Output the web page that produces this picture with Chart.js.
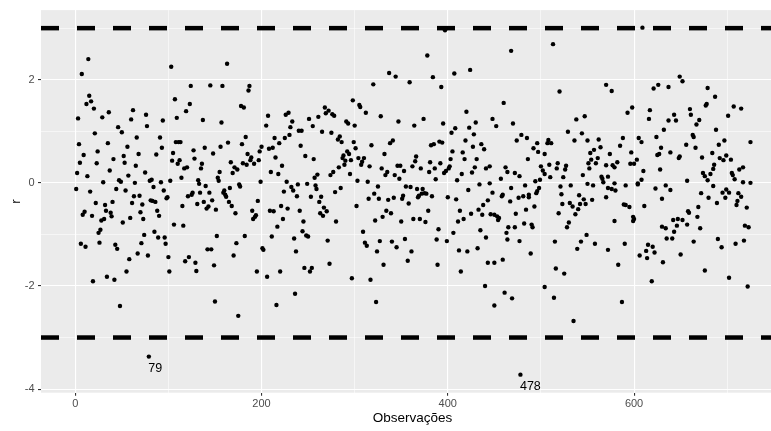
<!DOCTYPE html>
<html><head><meta charset="utf-8">
<script src="https://cdn.jsdelivr.net/npm/chart.js@4.4.1/dist/chart.umd.min.js"></script>
<style>html,body{margin:0;padding:0;overflow:hidden;background:#fff;width:771px;height:431px}canvas{display:block}</style>
</head><body>
<canvas id="c" width="791" height="431"></canvas>
<script>
const obs = [
1,2,3,4,5,6,7,8,9,10,11,12,13,14,15,16,17,18,19,20,21,22,23,24,25,26,27,28,29,30,
31,32,33,34,35,36,37,38,39,40,41,42,43,44,45,46,47,48,49,50,51,52,53,54,55,56,57,58,59,60,
61,62,63,64,65,66,67,68,69,70,71,72,73,74,75,76,77,78,79,80,81,82,83,84,85,86,87,88,89,90,
91,92,93,94,95,96,97,98,99,100,101,102,103,104,105,106,107,108,109,110,111,112,113,114,115,
116,117,118,119,120,121,122,123,124,125,126,127,128,129,130,131,132,133,134,135,
136,137,138,139,140,141,142,143,144,145,146,147,148,149,150,151,152,153,154,155,156,157,158,
159,160,161,162,163,164,165,166,167,168,169,170,171,172,173,174,175,176,177,178,179,180,181,
182,183,184,185,186,187,188,189,190,191,192,193,194,195,196,197,198,199,200,201,202,
205,206,207,208,209,210,211,212,213,214,215,216,217,218,219,220,221,222,223,224,225,226,227,
228,229,230,231,232,233,234,235,236,237,238,239,240,241,242,243,244,245,246,247,248,249,250,
251,252,253,254,255,256,257,258,259,260,261,262,263,264,265,266,267,268,269,270,271,272,273,
274,275,276,277,278,279,280,
282,283,284,285,286,287,288,289,290,291,292,293,294,295,296,297,298,299,300,301,302,303,304,
305,306,307,308,309,310,311,312,313,314,315,316,317,318,
320,321,322,323,324,325,326,327,328,329,330,331,332,333,334,335,336,337,338,339,340,341,342,
343,344,345,346,347,348,349,350,351,352,353,354,355,
357,358,359,360,361,362,363,364,365,366,367,368,369,370,371,372,373,374,375,376,377,378,379,
380,381,382,383,384,385,386,387,388,389,390,391,392,393,394,395,396,397,398,399,400,401,402,
403,404,405,406,407,408,409,410,411,412,413,414,415,416,417,418,419,420,421,422,423,424,425,
426,427,428,429,430,431,432,
433,434,435,436,437,438,439,440,441,441,443,443,445,445,446,448,448,450,450,450,
452,453,454,455,457,458,459,459,460,461,462,463,464,464,465,467,468,468,469,470,
472,472,473,474,476,477,477,478,479,481,482,483,484,485,486,487,487,489,490,491,
492,493,494,495,496,496,497,498,499,500,502,504,504,504,
507,508,509,510,511,513,514,515,516,517,518,519,520,521,522,523,524,525,526,527,
528,529,530,531,532,534,535,536,537,538,539,540,541,542,543,544,545,546,547,548,
549,550,550,551,552,553,554,555,556,557,559,558,561,562,564,565,566,567,
570,570,570,572,572,572,574,576,576,577,579,579,579,580,582,583,585,587,588,589,
590,591,591,593,595,596,597,598,599,599,600,600,603,604,604,605,606,608,608,609,
610,611,613,614,615,616,617,619,620,621,622,623,624,625,626,627,628,629,630,630,
631,632,634,634,635,637,637,639,639,641,642,643,643,645,646,647,648,649,649,650,
652,652,656,657,657,658,659,660,661,663,664,664,666,667,668,669,670,671,672,673,
674,676,676,677,678,679,679,680,682,684,685,685,686,687,688,689,690,691,692,694,
695,696,697,698,699,699,701,702,702,704,705,706,707,708,709,710,711,712,713,715,
715,717,717,718,719,721,722,723,725,725
];
const r = [
-0.12,0.19,1.25,0.75,0.39,-1.18,2.11,-0.62,0.54,-0.56,
-1.24,1.53,0.13,2.40,1.69,-0.17,1.58,-0.64,-1.91,1.44,
0.96,-0.39,0.38,0.61,-0.97,-1.16,-0.91,-0.73,1.27,0.01,
-0.70,-0.43,-0.54,-1.82,0.77,1.37,0.24,-0.58,-0.65,-0.37,
0.46,-1.88,-1.20,-0.12,-1.28,1.08,0.05,-2.39,0.02,0.98,
-0.77,0.52,0.39,-0.15,-1.72,0.70,0.14,-1.48,-0.68,1.23,
-0.39,1.41,-0.26,0.00,0.33,0.88,-1.37,0.56,-0.25,-0.57,
-1.17,-0.42,-0.70,-1.01,0.20,1.32,1.10,-1.41,-3.37,0.04,
-0.34,0.06,-0.35,-0.08,-0.95,-0.37,0.55,-0.54,-1.06,-0.64,
0.88,0.01,0.68,1.21,-0.15,-1.06,-1.18,-0.30,-0.28,-1.44,
-1.72,0.04,2.25,0.43,0.58,-0.81,1.62,0.79,1.26,0.37,
0.79,0.44,0.79,0.10,-0.45,-0.83,0.28,-1.52,1.39,0.30,
-0.26,-1.44,1.53,1.88,-0.23,-0.19,0.63,0.47,-1.55,-1.71,
-0.41,0.05,-0.02,-0.19,0.28,
0.37,1.22,-0.37,0.68,-0.06,-0.50,-1.29,-0.46,-0.19,1.89,
-1.29,-0.34,0.57,-1.60,-2.30,-0.52,-1.03,0.10,0.04,0.21,
0.70,1.17,1.88,-0.19,-0.15,-0.23,-0.27,2.31,0.78,-0.37,
-0.10,0.40,-0.45,0.19,-1.41,0.30,-0.59,-1.17,0.26,-2.58,
-0.03,-0.07,1.49,0.75,0.38,1.46,-1.03,0.89,0.35,0.56,
1.79,1.88,0.44,0.49,-0.54,-0.70,0.37,-0.66,-0.63,-1.72,
-0.35,0.44,0.61,0.02,0.70,-1.27,-1.30,
1.11,-1.82,1.30,0.66,-0.54,0.21,-1.04,0.68,-0.55,0.87,
0.49,-2.37,-0.85,0.17,0.77,-1.72,-0.45,0.33,-0.70,-0.17,
0.87,1.32,0.02,-0.50,1.36,0.93,1.08,-0.08,1.19,-0.15,
-1.08,-2.15,-1.33,-0.26,-0.03,1.01,-0.54,0.72,1.01,-0.94,
-0.75,-1.65,0.52,-1.02,-0.02,-1.04,1.24,-1.72,-0.27,-1.65,
1.10,0.46,0.10,-0.05,-0.12,0.16,1.28,-0.37,-0.59,-0.27,
0.99,-0.64,-0.48,1.46,1.35,-0.55,-1.12,1.40,-1.57,0.15,
0.97,1.33,0.21,1.30,-0.18,-0.75,
0.84,0.30,0.90,-0.10,0.79,0.48,0.53,0.35,0.43,1.19,
0.61,1.15,0.56,0.17,0.44,-1.85,1.60,0.79,1.11,0.67,
-0.45,0.04,0.48,1.51,1.47,0.35,0.41,-0.95,0.48,-1.16,
1.36,-1.22,0.02,-0.31,0.32,-1.88,0.73,
1.91,-0.21,-0.73,-2.31,-1.33,-0.07,-0.31,-1.13,1.29,0.28,
-0.66,-1.59,0.56,0.15,-0.54,0.21,-0.33,2.13,0.77,-0.59,
-1.14,0.82,-0.29,0.15,2.06,-1.25,0.33,1.19,0.08,0.33,
-0.75,-0.31,-0.25,0.23,-1.09,-0.07,
-1.51,-0.40,1.95,-0.08,-1.33,0.32,-0.70,1.11,0.42,0.51,
-0.12,-0.28,-0.25,-0.70,0.28,-0.21,-0.12,1.24,-0.20,-0.76,
-0.21,2.47,-0.54,0.21,0.40,0.73,-0.26,2.05,0.75,0.28,
0.07,-1.10,-1.59,-0.90,0.80,0.38,1.86,0.78,1.15,0.19,
2.96,0.23,-1.13,-0.28,0.28,0.32,0.46,0.97,0.61,-0.97,
2.12,1.06,-0.32,0.05,-0.75,-1.31,-0.54,-1.72,0.17,0.59,
-0.70,0.46,0.82,1.38,-1.33,-0.14,1.07,2.19,-0.60,0.20,
0.70,0.94,0.30,1.17,0.46,-1.27,
-0.52,-0.03,-0.92,0.75,-0.62,-0.43,0.65,-2.00,0.28,-1.06,
-0.34,-1.55,0.32,-0.01,-0.61,-0.19,1.24,-2.38,-0.62,-1.55,
1.10,-0.65,-0.72,-0.68,0.08,-0.26,-0.23,-1.49,1.55,-2.13,
0.30,-0.97,-1.10,0.21,-0.86,-0.36,-0.10,2.56,-2.24,1.15,
0.19,-0.86,-0.60,0.82,-0.29,0.13,-1.13,-3.72,0.93,-0.26,
-0.79,-0.05,-0.52,0.87,0.46,-0.23,-0.28,-1.37,-0.81,-0.86,
0.67,-0.46,0.03,-0.20,0.77,-0.16,0.60,-0.10,0.06,0.32,
0.24,0.56,0.17,-2.02,
0.77,0.83,0.35,0.11,0.77,2.69,-2.23,-1.14,-1.66,0.28,
0.38,-0.59,1.77,-0.07,-0.22,-0.41,0.11,-1.76,0.26,0.33,
-0.86,0.99,-0.77,-0.39,-0.05,-0.46,-2.68,0.82,-0.61,1.23,
-1.28,-0.51,-0.24,-0.41,-1.14,0.96,0.15,-0.32,1.29,-0.41,
-1.01,-0.02,0.82,0.38,0.28,0.58,0.45,-0.33,-0.05,0.64,
0.38,-1.18,0.48,0.84,0.69,0.12,0.08,0.01,
1.90,0.34,-0.28,-1.30,-0.10,0.12,0.56,1.78,-0.12,0.34,
-0.01,0.30,-0.74,-0.15,0.40,-1.59,0.72,-2.31,0.87,-0.42,
-1.18,-0.05,-0.43,1.36,-0.47,0.37,0.59,1.46,-0.74,-0.66,
0.37,-0.70,0.45,-0.01,-0.03,0.87,-1.41,0.79,0.06,3.01,
0.23,-0.45,-1.32,-1.46,-1.20,1.24,1.41,-1.91,-1.24,1.83,
-1.35,-0.11,0.89,0.54,1.90,0.56,0.26,0.68,-0.31,-0.85,
-1.54,1.03,-0.05,-0.88,-1.08,1.21,1.86,-0.14,0.59,-1.08,
-0.72,1.32,-0.95,1.21,-0.83,-0.70,0.48,0.51,2.06,-1.39,
1.97,-0.72,0.74,0.04,-0.81,-0.55,-0.58,1.43,1.32,0.93,
0.89,-1.14,0.68,1.13,-0.66,-0.47,1.22,-0.88,-0.20,0.49,
0.19,0.13,-1.70,1.50,1.53,0.05,1.84,-0.29,0.17,0.58,
-0.06,0.27,0.35,1.67,1.03,-0.39,-1.09,0.74,0.48,-1.25,
-0.19,0.44,0.82,-0.29,0.53,-0.13,1.30,-1.84,-0.19,0.45,
0.19,0.15,1.48,0.07,-1.18,-0.43,-0.35,-0.20,0.26,1.44,
-0.27,0.30,0.01,-1.12,-0.83,-0.48,-2.01,-0.86,0.79,0.00
];
const refLines = [3, -3];          // dashed reference lines
const labelObs = [79, 478];        // labelled outliers
const xGrid = [0, 100, 200, 300, 400, 500, 600, 700];   // major + minor grid positions
const yGrid = [-4, -3, -2, -1, 0, 1, 2, 3];
const xTickLabels = [0, 200, 400, 600];
const yTickLabels = [-4, -2, 0, 2];
const xTitle = 'Observações';
const yTitle = 'r';

const FONT = '"Liberation Sans", Arial, sans-serif';
Chart.defaults.font.family = FONT;

const points = obs.map((o, i) => ({x: o, y: r[i]}));

const ggPlugin = {
  id: 'gg',
  beforeDraw(chart) {
    const {ctx, chartArea: a} = chart;
    ctx.save();
    ctx.fillStyle = '#EBEBEB';
    ctx.fillRect(a.left, a.top, a.right - a.left, a.bottom - a.top);
    ctx.restore();
  },
  beforeDatasetsDraw(chart) {
    const {ctx, chartArea: a, scales} = chart;
    ctx.save();
    ctx.beginPath();
    ctx.rect(a.left, a.top, a.right - a.left, a.bottom - a.top);
    ctx.clip();
    ctx.strokeStyle = '#000';
    ctx.lineWidth = 4.5;
    ctx.lineCap = 'butt';
    ctx.setLineDash([18, 18]);
    refLines.forEach(v => {
      const y = scales.y.getPixelForValue(v);
      ctx.beginPath();
      ctx.moveTo(a.left, y);
      ctx.lineTo(a.right, y);
      ctx.stroke();
    });
    ctx.restore();
  },
  afterDatasetsDraw(chart) {
    const {ctx, scales} = chart;
    ctx.save();
    ctx.fillStyle = '#000';
    ctx.font = '12.5px ' + FONT;
    ctx.textAlign = 'left';
    ctx.textBaseline = 'middle';
    labelObs.forEach(o => {
      const i = obs.indexOf(o);
      const px = scales.x.getPixelForValue(o);
      const py = scales.y.getPixelForValue(r[i]);
      ctx.fillText(String(o), px - 0.5, py + 12);
    });
    ctx.restore();
  }
};

const isMajorX = c => c.tick && xTickLabels.includes(c.tick.value);
const isMajorY = c => c.tick && yTickLabels.includes(c.tick.value);

new Chart(document.getElementById('c'), {
  type: 'scatter',
  data: { datasets: [{
    data: points,
    pointRadius: 2.2,
    pointHoverRadius: 2.2,
    pointBorderWidth: 0,
    pointBackgroundColor: '#000',
    pointBorderColor: '#000'
  }]},
  options: {
    responsive: false,
    animation: false,
    devicePixelRatio: 1,
    events: [],
    layout: { padding: { top: 9, right: 7, bottom: 0, left: 0 } },
    plugins: { legend: { display: false }, tooltip: { enabled: false } },
    scales: {
      x: {
        type: 'linear',
        min: -36.8, max: 761,
        afterBuildTicks: s => { s.ticks = xGrid.map(v => ({value: v})); },
        afterFit: s => { s.height = 38.3; },
        border: { display: false },
        grid: {
          color: '#FFFFFF',
          lineWidth: c => isMajorX(c) ? 1.1 : 0.55,
          tickColor: c => isMajorX(c) ? '#333333' : 'rgba(0,0,0,0)',
          tickLength: 3,
          tickWidth: 1.1
        },
        ticks: {
          autoSkip: false,
          maxRotation: 0,
          padding: 2,
          color: '#4D4D4D',
          font: { size: 11 },
          callback: v => xTickLabels.includes(v) ? String(v) : ''
        },
        title: {
          display: true, text: xTitle, color: '#000',
          font: { size: 13.5 },
          padding: { top: 0, bottom: 4.3 }
        }
      },
      y: {
        type: 'linear',
        min: -4.07, max: 3.35,
        afterBuildTicks: s => { s.ticks = yGrid.map(v => ({value: v})); },
        afterFit: s => { s.width = 41; },
        border: { display: false },
        grid: {
          color: '#FFFFFF',
          lineWidth: c => isMajorY(c) ? 1.1 : 0.55,
          tickColor: c => isMajorY(c) ? '#333333' : 'rgba(0,0,0,0)',
          tickLength: 3,
          tickWidth: 1.1
        },
        ticks: {
          autoSkip: false,
          padding: 3.5,
          color: '#4D4D4D',
          font: { size: 11 },
          callback: v => yTickLabels.includes(v) ? String(v) : ''
        },
        title: {
          display: true, text: yTitle, color: '#000',
          font: { size: 13.5 },
          padding: { top: 8.2, bottom: 0 }
        }
      }
    }
  },
  plugins: [ggPlugin]
});
</script>
</body></html>
